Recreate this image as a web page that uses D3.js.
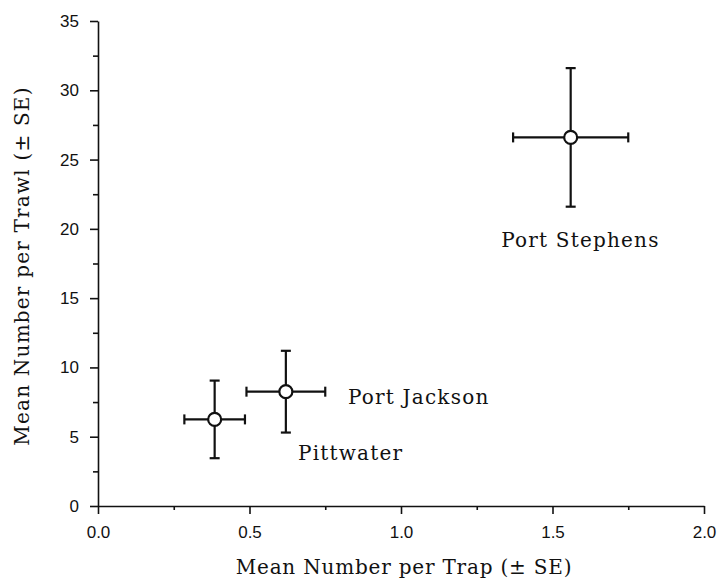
<!DOCTYPE html>
<html>
<head>
<meta charset="utf-8">
<script src="https://cdn.jsdelivr.net/npm/d3@7"></script>
<style>
  body { margin: 0; background: #fff; }
  .tick text { font-family: "Liberation Sans", Arial, sans-serif; font-size: 17px; fill: #111; }
  .axis path, .axis line { stroke: #111; stroke-width: 1.6; }
  .title, .site { font-family: "DejaVu Serif", serif; fill: #111; }
</style>
</head>
<body>
<svg width="721" height="580"></svg>
<script>
// estuary sites, means and standard errors
const sites = ["Pittwater", "Port Jackson", "Port Stephens"];
const trapMean = [0.385, 0.62, 1.56];
const trapSE = [0.10, 0.13, 0.19];
const trawlMean = [6.25, 8.25, 26.6];
const trawlSE = [2.8, 2.95, 5.0];
const xTicks = [0, 0.5, 1.0, 1.5, 2.0];
const yTicks = [0, 5, 10, 15, 20, 25, 30, 35];

const svg = d3.select("svg");

const x = d3.scaleLinear().domain([0, 2]).range([98, 704]);
const y = d3.scaleLinear().domain([0, 35]).range([506, 21]);

// minor ticks first, majors on top
svg.append("g")
  .attr("class", "axis")
  .attr("transform", `translate(0, ${y(0)})`)
  .call(d3.axisBottom(x).tickValues(d3.range(0.25, 2, 0.5)).tickSize(4).tickFormat(""))
  .call((g) => g.select(".domain").remove());
svg.append("g")
  .attr("class", "axis")
  .attr("transform", `translate(${x(0)}, 0)`)
  .call(d3.axisLeft(y).tickValues(d3.range(2.5, 35, 5)).tickSize(5).tickFormat(""))
  .call((g) => g.select(".domain").remove());

svg.append("g")
  .attr("class", "axis")
  .attr("transform", `translate(0, ${y(0)})`)
  .call(d3.axisBottom(x).tickValues(xTicks).tickSize(8).tickSizeOuter(0).tickPadding(12).tickFormat(d3.format(".1f")));

svg.append("g")
  .attr("class", "axis")
  .attr("transform", `translate(${x(0)}, 0)`)
  .call(d3.axisLeft(y).tickValues(yTicks).tickSize(8).tickSizeOuter(0).tickPadding(11));

const data = sites.map((s, i) => ({
  site: s, x: trapMean[i], xe: trapSE[i], y: trawlMean[i], ye: trawlSE[i]
}));

const cap = 5;
const pts = svg.append("g").selectAll("g").data(data).join("g")
  .attr("stroke", "#111").attr("stroke-width", 2.2);

pts.append("line")
  .attr("x1", (d) => x(d.x - d.xe)).attr("x2", (d) => x(d.x + d.xe))
  .attr("y1", (d) => y(d.y)).attr("y2", (d) => y(d.y));
pts.append("line")
  .attr("x1", (d) => x(d.x)).attr("x2", (d) => x(d.x))
  .attr("y1", (d) => y(d.y - d.ye)).attr("y2", (d) => y(d.y + d.ye));
// caps
pts.selectAll("line.capx").data((d) => [d.x - d.xe, d.x + d.xe].map((v) => ({ v, d }))).join("line")
  .attr("class", "capx")
  .attr("x1", (c) => x(c.v)).attr("x2", (c) => x(c.v))
  .attr("y1", (c) => y(c.d.y) - cap).attr("y2", (c) => y(c.d.y) + cap);
pts.selectAll("line.capy").data((d) => [d.y - d.ye, d.y + d.ye].map((v) => ({ v, d }))).join("line")
  .attr("class", "capy")
  .attr("x1", (c) => x(c.d.x) - cap).attr("x2", (c) => x(c.d.x) + cap)
  .attr("y1", (c) => y(c.v)).attr("y2", (c) => y(c.v));
pts.append("circle")
  .attr("cx", (d) => x(d.x)).attr("cy", (d) => y(d.y))
  .attr("r", 6.5).attr("fill", "#fff");

// site names
const labelPos = {
  "Pittwater": [0.66, 3.3, "start"],
  "Port Jackson": [0.825, 7.35, "start"],
  "Port Stephens": [1.592, 18.7, "middle"]
};
svg.append("g").selectAll("text").data(data).join("text")
  .attr("class", "site")
  .attr("x", (d) => x(labelPos[d.site][0]))
  .attr("y", (d) => y(labelPos[d.site][1]))
  .attr("text-anchor", (d) => labelPos[d.site][2])
  .attr("font-size", 20)
  .attr("letter-spacing", 1.2)
  .text((d) => d.site);

svg.append("text")
  .attr("class", "title")
  .attr("x", 404).attr("y", 574)
  .attr("text-anchor", "middle")
  .attr("font-size", 20)
  .attr("letter-spacing", 0.8)
  .text("Mean Number per Trap (± SE)");

svg.append("text")
  .attr("class", "title")
  .attr("transform", "translate(29, 266) rotate(-90)")
  .attr("text-anchor", "middle")
  .attr("font-size", 20)
  .attr("letter-spacing", 1.2)
  .text("Mean Number per Trawl (± SE)");
</script>
</body>
</html>
